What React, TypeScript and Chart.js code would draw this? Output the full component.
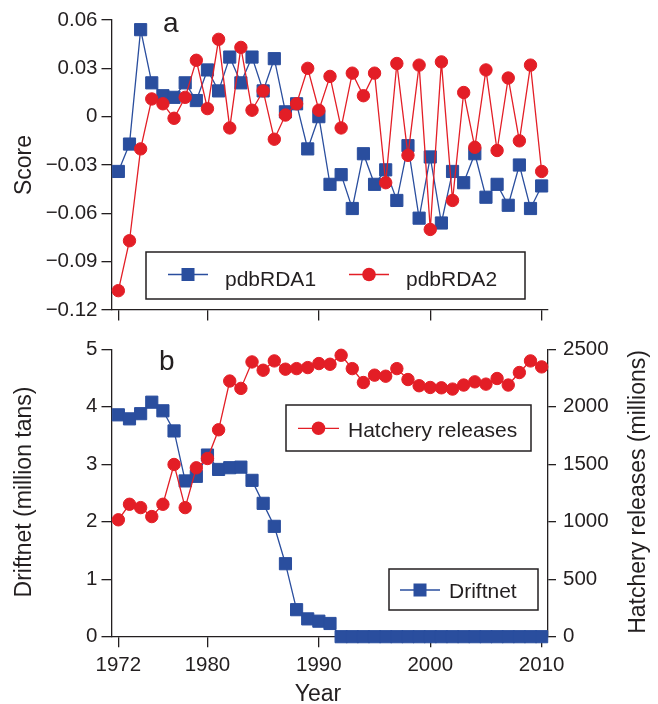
import React, { useEffect, useRef } from "react";
import { Chart, registerables } from "chart.js";

Chart.register(...registerables);

// ---------- data ----------
const YEARS = [
  1972, 1973, 1974, 1975, 1976, 1977, 1978, 1979, 1980, 1981,
  1982, 1983, 1984, 1985, 1986, 1987, 1988, 1989, 1990, 1991,
  1992, 1993, 1994, 1995, 1996, 1997, 1998, 1999, 2000, 2001,
  2002, 2003, 2004, 2005, 2006, 2007, 2008, 2009, 2010,
];

const PDBRDA1 = [
  -0.034, -0.017, 0.054, 0.021, 0.013, 0.012, 0.021, 0.01, 0.029, 0.016,
  0.037, 0.021, 0.037, 0.016, 0.036, 0.003, 0.008, -0.02, 0.0, -0.042,
  -0.036, -0.057, -0.023, -0.042, -0.033, -0.052, -0.018, -0.063, -0.025, -0.066,
  -0.034, -0.041, -0.023, -0.05, -0.042, -0.055, -0.03, -0.057, -0.043,
];

const PDBRDA2 = [
  -0.108, -0.077, -0.02, 0.011, 0.008, -0.001, 0.012, 0.035, 0.005, 0.048,
  -0.007, 0.043, 0.004, 0.016, -0.014, 0.001, 0.008, 0.03, 0.004, 0.025,
  -0.007, 0.027, 0.013, 0.027, -0.041, 0.033, -0.024, 0.032, -0.07, 0.034,
  -0.052, 0.015, -0.019, 0.029, -0.021, 0.024, -0.015, 0.032, -0.034,
];

const DRIFTNET = [
  3.86, 3.79, 3.88, 4.08, 3.93, 3.58, 2.71, 2.79, 3.16, 2.91,
  2.94, 2.95, 2.72, 2.32, 1.92, 1.27, 0.47, 0.31, 0.27, 0.23,
  0, 0, 0, 0, 0, 0, 0, 0, 0, 0,
  0, 0, 0, 0, 0, 0, 0, 0, 0,
];

const HATCHERY = [
  1017, 1152, 1123, 1045, 1152, 1498, 1123, 1469, 1550, 1800,
  2224, 2160, 2390, 2318, 2399, 2327, 2332, 2341, 2376, 2370,
  2448, 2332, 2211, 2275, 2266, 2332, 2237, 2183, 2168, 2165,
  2154, 2189, 2217, 2197, 2246, 2189, 2298, 2399, 2347,
];

const YEAR_TICKS = [1972, 1980, 1990, 2000, 2010];
const YEAR_LABELS = ["1972", "1980", "1990", "2000", "2010"];
const SCORE_TICKS = [-0.12, -0.09, -0.06, -0.03, 0, 0.03, 0.06];
const SCORE_LABELS = ["\u22120.12", "\u22120.09", "\u22120.06", "\u22120.03", "0", "0.03", "0.06"];
const DRIFT_TICKS = [0, 1, 2, 3, 4, 5];
const DRIFT_LABELS = ["0", "1", "2", "3", "4", "5"];
const HATCH_TICKS = [0, 500, 1000, 1500, 2000, 2500];
const HATCH_LABELS = ["0", "500", "1000", "1500", "2000", "2500"];

// ---------- styles ----------
const FONT = "'Liberation Sans', Arial, Helvetica, sans-serif";
const INK = "#231f20";
const BLUE = "#2a4e9e";
const RED = "#e31e26";
const TICK_SIZE = 20.5;

function pts(vals: number[]) {
  return YEARS.map((x, i) => ({ x, y: vals[i] }));
}

function xScale(showLabels: boolean, height: number) {
  return {
    type: "linear",
    min: 1971.43,
    max: 2010.57,
    afterBuildTicks: (s: any) => {
      s.ticks = YEAR_TICKS.map((v) => ({ value: v }));
    },
    afterFit: (s: any) => {
      s.height = height;
    },
    ticks: {
      display: showLabels,
      autoSkip: false,
      maxRotation: 0,
      padding: 6,
      color: INK,
      font: { family: FONT, size: TICK_SIZE },
      callback: (v: number) => YEAR_LABELS[YEAR_TICKS.indexOf(v)],
    },
    grid: { display: true, drawOnChartArea: false, drawTicks: true, tickLength: 10.5, color: INK, lineWidth: 1.3 },
    border: { display: true, color: INK, width: 1.3 },
  };
}

function yScale(
  position: string,
  min: number,
  max: number,
  ticks: number[],
  labels: string[],
  width: number,
  tickLength: number,
  padding: number
) {
  return {
    type: "linear",
    position,
    min,
    max,
    afterBuildTicks: (s: any) => {
      s.ticks = ticks.map((v) => ({ value: v }));
    },
    afterFit: (s: any) => {
      s.width = width;
    },
    ticks: {
      autoSkip: false,
      padding,
      color: INK,
      font: { family: FONT, size: TICK_SIZE },
      callback: (v: number) => labels[ticks.indexOf(v)],
    },
    grid: { display: true, drawOnChartArea: false, drawTicks: true, tickLength, color: INK, lineWidth: 1.3 },
    border: { display: true, color: INK, width: 1.3 },
  };
}

function drawMarker(ctx: CanvasRenderingContext2D, style: string, x: number, y: number, color: string) {
  ctx.fillStyle = color;
  if (style === "rect") {
    ctx.fillRect(x - 6.5, y - 6.5, 13, 13);
  } else {
    ctx.beginPath();
    ctx.arc(x, y, 6.8, 0, Math.PI * 2);
    ctx.fill();
  }
}

type LegendItem = { ds: number; x1: number; x2: number; y: number; tx: number; ty: number };

function drawLegend(
  chart: any,
  box: { x: number; y: number; w: number; h: number },
  items: LegendItem[]
) {
  const ctx: CanvasRenderingContext2D = chart.ctx;
  ctx.save();
  ctx.fillStyle = "#ffffff";
  ctx.fillRect(box.x, box.y, box.w, box.h);
  ctx.strokeStyle = INK;
  ctx.lineWidth = 1.5;
  ctx.strokeRect(box.x, box.y, box.w, box.h);
  for (const it of items) {
    const ds = chart.data.datasets[it.ds];
    ctx.strokeStyle = ds.borderColor;
    ctx.lineWidth = 1.3;
    ctx.beginPath();
    ctx.moveTo(it.x1, it.y);
    ctx.lineTo(it.x2, it.y);
    ctx.stroke();
    drawMarker(ctx, ds.pointStyle, (it.x1 + it.x2) / 2, it.y, ds.pointBackgroundColor);
    ctx.fillStyle = INK;
    ctx.font = `21px ${FONT}`;
    ctx.textAlign = "left";
    ctx.textBaseline = "alphabetic";
    ctx.fillText(ds.label, it.tx, it.ty);
  }
  ctx.restore();
}

function rotatedText(ctx: CanvasRenderingContext2D, text: string, x: number, y: number, size: number) {
  ctx.save();
  ctx.translate(x, y);
  ctx.rotate(-Math.PI / 2);
  ctx.fillStyle = INK;
  ctx.font = `${size}px ${FONT}`;
  ctx.textAlign = "center";
  ctx.textBaseline = "middle";
  ctx.fillText(text, 0, 0);
  ctx.restore();
}

const topDecor = {
  id: "topDecor",
  afterDraw(chart: any) {
    const ctx: CanvasRenderingContext2D = chart.ctx;
    ctx.save();
    ctx.fillStyle = INK;
    ctx.font = `28px ${FONT}`;
    ctx.textAlign = "left";
    ctx.textBaseline = "alphabetic";
    ctx.fillText("a", 163, 32);
    ctx.restore();
    rotatedText(ctx, "Score", 25, 165, 23);
    drawLegend(chart, { x: 146, y: 252, w: 379, h: 47 }, [
      { ds: 0, x1: 168, x2: 208, y: 274.5, tx: 225, ty: 285.5 },
      { ds: 1, x1: 349, x2: 389, y: 274.5, tx: 406, ty: 285.5 },
    ]);
  },
};

const bottomDecor = {
  id: "bottomDecor",
  afterDraw(chart: any) {
    const ctx: CanvasRenderingContext2D = chart.ctx;
    ctx.save();
    ctx.fillStyle = INK;
    ctx.font = `28px ${FONT}`;
    ctx.textAlign = "left";
    ctx.textBaseline = "alphabetic";
    ctx.fillText("b", 159, 40);
    ctx.font = `23px ${FONT}`;
    ctx.textAlign = "center";
    ctx.fillText("Year", 318, 371);
    ctx.restore();
    rotatedText(ctx, "Driftnet (million tans)", 25, 162, 23);
    rotatedText(ctx, "Hatchery releases (millions)", 639, 162, 23);
    drawLegend(chart, { x: 286, y: 75, w: 245, h: 46 }, [
      { ds: 1, x1: 298, x2: 339, y: 98.3, tx: 348, ty: 107.3 },
    ]);
    drawLegend(chart, { x: 389, y: 239, w: 149, h: 41 }, [
      { ds: 0, x1: 400, x2: 440, y: 260, tx: 449, ty: 267.7 },
    ]);
  },
};

function blueSet(label: string, data: any, yAxisID: string) {
  return {
    label,
    data,
    yAxisID,
    borderColor: BLUE,
    backgroundColor: BLUE,
    pointBackgroundColor: BLUE,
    pointBorderColor: BLUE,
    pointStyle: "rect",
    pointRadius: 8.6,
    pointBorderWidth: 1,
    borderWidth: 1.3,
    tension: 0,
    clip: false,
    order: 1,
  };
}

function redSet(label: string, data: any, yAxisID: string) {
  return {
    label,
    data,
    yAxisID,
    borderColor: RED,
    backgroundColor: RED,
    pointBackgroundColor: RED,
    pointBorderColor: RED,
    pointStyle: "circle",
    pointRadius: 6.2,
    pointBorderWidth: 1,
    borderWidth: 1.3,
    tension: 0,
    clip: false,
    order: 0,
  };
}

export default function App() {
  const topRef = useRef<HTMLCanvasElement>(null);
  const botRef = useRef<HTMLCanvasElement>(null);

  useEffect(() => {
    const top = new Chart(topRef.current as HTMLCanvasElement, {
      type: "line",
      data: {
        datasets: [blueSet("pdbRDA1", pts(PDBRDA1), "y"), redSet("pdbRDA2", pts(PDBRDA2), "y")],
      } as any,
      options: {
        animation: false,
        responsive: false,
        devicePixelRatio: 1,
        layout: { padding: { top: 20, right: 110, left: 0, bottom: 0 } },
        plugins: { legend: { display: false }, tooltip: { enabled: false } },
        scales: {
          x: xScale(false, 20),
          y: yScale("left", -0.12, 0.06, SCORE_TICKS, SCORE_LABELS, 112, 10.5, 4),
        },
      } as any,
      plugins: [topDecor],
    });

    const bot = new Chart(botRef.current as HTMLCanvasElement, {
      type: "line",
      data: {
        datasets: [blueSet("Driftnet", pts(DRIFTNET), "y"), redSet("Hatchery releases", pts(HATCHERY), "y1")],
      } as any,
      options: {
        animation: false,
        responsive: false,
        devicePixelRatio: 1,
        layout: { padding: { top: 17.3, right: 0, left: 0, bottom: 0 } },
        plugins: { legend: { display: false }, tooltip: { enabled: false } },
        scales: {
          x: xScale(true, 67.3),
          y: yScale("left", 0, 5, DRIFT_TICKS, DRIFT_LABELS, 112, 10.5, 4),
          y1: yScale("right", 0, 2500, HATCH_TICKS, HATCH_LABELS, 110, 8, 7),
        },
      } as any,
      plugins: [bottomDecor],
    });

    return () => {
      top.destroy();
      bot.destroy();
    };
  }, []);

  return (
    <div style={{ position: "fixed", left: 0, top: 0, width: 658, height: 704, background: "#fff" }}>
      <canvas ref={topRef} width={658} height={330} style={{ position: "absolute", left: 0, top: 0 }} />
      <canvas ref={botRef} width={658} height={374} style={{ position: "absolute", left: 0, top: 330 }} />
    </div>
  );
}
